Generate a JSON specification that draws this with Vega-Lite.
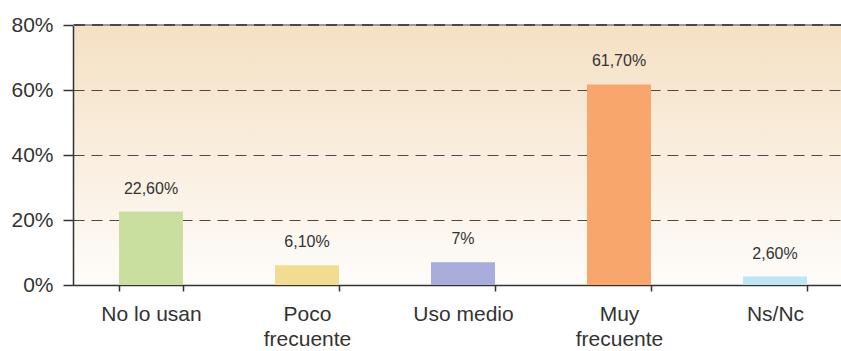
{
  "$schema": "https://vega.github.io/schema/vega-lite/v6.json",
  "width": 768,
  "height": 260,
  "autosize": {"type": "none"},
  "padding": {"left": 73, "top": 25, "right": 0, "bottom": 66},
  "background": "white",
  "config": {
    "font": "Liberation Sans",
    "view": {
      "stroke": null,
      "fill": {"gradient": "linear", "x1": 0, "y1": 0, "x2": 0, "y2": 1,
        "stops": [{"offset": 0, "color": "#f5e0c3"}, {"offset": 1, "color": "#fefcfa"}]}
    }
  },
  "data": {
    "values": [
      {"categoria": "No lo usan", "valor": 22.6, "etiqueta": "22,60%"},
      {"categoria": "Poco frecuente", "valor": 6.1, "etiqueta": "6,10%"},
      {"categoria": "Uso medio", "valor": 7, "etiqueta": "7%"},
      {"categoria": "Muy frecuente", "valor": 61.7, "etiqueta": "61,70%"},
      {"categoria": "Ns/Nc", "valor": 2.6, "etiqueta": "2,60%"}
    ]
  },
  "layer": [
    {
      "mark": {"type": "bar"},
      "encoding": {
        "x": {
          "field": "categoria", "type": "nominal", "sort": null,
          "scale": {"range": [0, 780], "paddingInner": 0.59, "paddingOuter": 0.295},
          "axis": {
            "title": null, "labelAngle": 0, "labelFontSize": 21, "labelColor": "#333333",
            "labelPadding": 12, "labelLineHeight": 25, "labelBaseline": "top",
            "tickBand": "extent", "tickSize": 6, "tickColor": "#333333", "tickWidth": 1.5,
            "domainColor": "#333333", "domainWidth": 1.5, "grid": false,
            "labelExpr": "datum.label == 'Poco frecuente' ? ['Poco','frecuente'] : datum.label == 'Muy frecuente' ? ['Muy','frecuente'] : datum.label"
          }
        },
        "y": {
          "field": "valor", "type": "quantitative",
          "scale": {"domain": [0, 80], "nice": false},
          "axis": {
            "title": null, "values": [0, 20, 40, 60, 80], "labelExpr": "datum.value + '%'",
            "labelFontSize": 21, "labelColor": "#333333", "labelPadding": 10,
            "tickSize": 10, "tickColor": "#333333", "tickWidth": 1.5,
            "domainColor": "#333333", "domainWidth": 1.5,
            "grid": true, "gridColor": "#4a4a4a", "gridDash": [11, 7], "gridWidth": 1.2
          }
        },
        "color": {
          "field": "categoria", "type": "nominal", "sort": null, "legend": null,
          "scale": {"range": ["#c9df9f", "#f2dc91", "#a8addb", "#f8a66b", "#bde6f5"]}
        }
      }
    },
    {
      "mark": {"type": "text", "baseline": "alphabetic", "dy": -18, "fontSize": 16, "color": "#333333"},
      "encoding": {
        "x": {"field": "categoria", "type": "nominal", "sort": null},
        "y": {"field": "valor", "type": "quantitative"},
        "text": {"field": "etiqueta"}
      }
    },
    {
      "mark": {"type": "rule", "color": "#9a9a9a", "strokeWidth": 1.5},
      "encoding": {"y": {"datum": 80}}
    },
    {
      "mark": {"type": "rule", "color": "#4a4a4a", "strokeWidth": 1.5, "strokeDash": [11, 7]},
      "encoding": {"y": {"datum": 80}}
    }
  ]
}
